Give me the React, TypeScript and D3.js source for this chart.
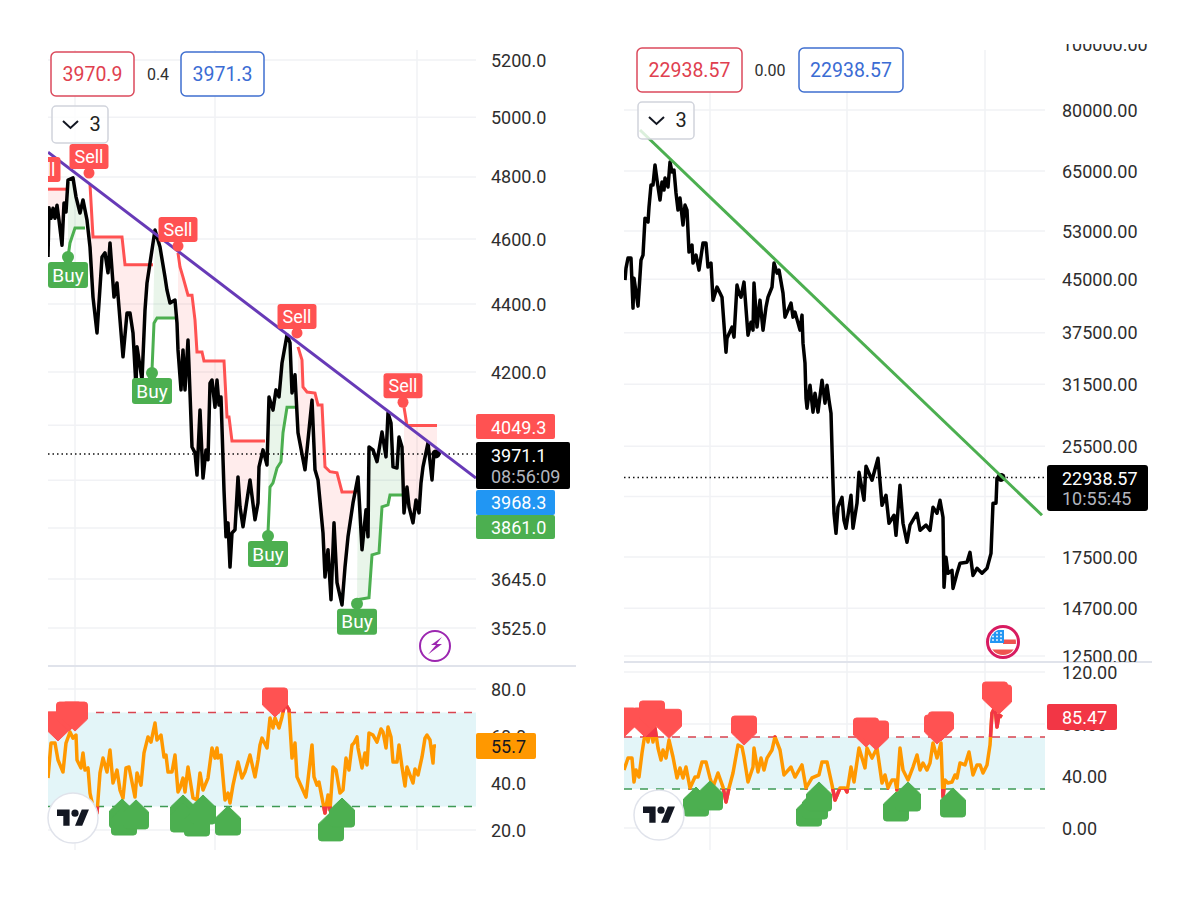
import { line, path as d3path, scaleLinear, scaleLog, ScaleLinear, ScaleLogarithmic } from "d3";

type Pt = [number, number];

// left chart: [bar, price]
const leftClose: Pt[] = [
  [0,4544],[1,4700],[3,4666],[5,4698],[7,4666],[9,4708],[11,4660],[14,4581],[16,4715],[18,4686],[20,4790],[25,4797],[28,4735],
  [32,4683],[35,4725],[39,4660],[42,4575],[45,4421],[49,4314],[54,4544],[57,4557],[60,4495],[62,4588],
  [66,4421],[69,4464],[75,4244],[79,4373],[82,4373],[85,4314],[88,4157],[89,4273],[94,4177],[97,4382],
  [99,4464],[107,4629],[112,4575],[117,4482],[119,4442],[122,4403],[127,4412],[129,4343],[130,4264],[133,4149],
  [135,4264],[137,4149],[140,4293],[142,4140],[144,3990],[147,3974],[149,3914],[152,4092],[155,3906],[158,3982],
  [160,3955],[162,4168],[164,4177],[167,4100],[169,4177],[171,4106],[173,4129],[176,3874],[178,3752],[180,3788],
  [182,3675],[184,3762],[187,3770],[190,3909],[192,3830],[195,3778],[202,3901],[207,3796],[210,3840],[211,3936],
  [215,3982],[219,3941],[221,4129],[225,4092],[228,4149],[231,4129],[234,4226],[239,4308],[242,4285],[244,4140],
  [247,4192],[250,4029],[257,3928],[264,4120],[267,3928],[270,3901],[275,3762],[277,3650],[280,3719],[283,3594],
  [286,3788],[289,3636],[294,3581],[297,3675],[300,3752],[305,3840],[310,3909],[314,3719],[318,3822],[320,3752],
  [321,3990],[325,3982],[329,3950],[334,4031],[338,3963],[340,4084],[343,4056],[345,3936],[349,3933],[351,4017],
  [354,3990],[356,3814],[359,3882],[361,3830],[365,3788],[368,3848],[371,3814],[373,3893],[375,3936],[380,4001],
  [384,3901],[386,3974],[389,3971.1],
];
const leftRedStops: Pt[][] = [
  [[0,4760],[18,4760]],
  [[42,4776],[45,4607],[74,4607],[77,4520],[105,4520]],
  [[130,4557],[132,4513],[135,4482],[140,4427],[144,4427],[147,4352],[149,4258],[154,4258],[156,4232],[176,4232],[179,4073],[181,4073],[184,4006],[217,4006]],
  [[250,4273],[254,4235],[255,4157],[259,4143],[267,4140],[270,4106],[274,4106],[277,3936],[282,3923],[289,3920],[294,3869],[309,3869]],
  [[356,4100],[359,4049.3],[389,4049.3]],
];
const leftGreenStops: Pt[][] = [
  [[20,4544],[22,4588],[27,4635],[37,4635]],
  [[104,4206],[106,4343],[109,4358],[127,4358]],
  [[220,3762],[222,3882],[225,3893],[229,3933],[233,3950],[235,4029],[239,4100],[247,4100]],
  [[309,3594],[321,3599],[324,3706],[331,3711],[334,3830],[340,3835],[342,3861],[355,3861]],
];
const leftSellPins: Pt[] = [[-7,4770],[41,4813],[130,4578],[249,4314],[355,4114]];
const leftBuyPins: Pt[] = [[20,4544],[104,4197],[220,3754],[309,3584]];
const leftTrend: Pt[] = [[0,4882],[428,3906]];
const leftTicks = [5200, 5000, 4800, 4600, 4400, 4200, 3645, 3525];
const leftHiddenTicks = [4050, 3900, 3775];
const leftTimeBars = [27, 167, 369];

const leftRsi: Pt[] = [
  [0,42.1],[3,57],[7,57],[10,49.8],[15,44.7],[18,57],[22,61.7],[25,59.1],[28,60.4],[29,49.8],
  [33,46.4],[35,52.8],[37,45.5],[40,46.4],[42,35.7],[45,29.8],[49,27.2],[52,44.3],[55,50.6],[59,44.7],
  [62,54],[65,40],[69,45.5],[72,37],[75,33.6],[78,46.4],[81,46.8],[87,34],[89,44.3],[93,39.1],
  [96,52.8],[100,59.6],[103,57.4],[107,65.5],[109,58.3],[113,60.4],[116,51.1],[118,51.9],[120,44.7],[124,44.7],
  [127,51.9],[130,36.2],[132,37.9],[135,42.1],[137,36.2],[140,46.8],[145,33.6],[149,32.8],[152,44.3],[155,37],
  [160,42.1],[164,54.9],[167,50.6],[169,54.9],[170,50.6],[173,51.9],[177,32.8],[180,35.7],[182,31.5],[185,39.1],
  [190,48.9],[194,42.1],[197,44.7],[202,51.9],[207,42.6],[210,49.8],[212,56.2],[214,59.1],[219,54.9],[222,67.7],
  [225,63.4],[227,67.7],[231,63.4],[234,68.1],[237,74],[241,71.1],[244,50.6],[247,57],[249,42.6],[254,37.9],
  [258,34],[264,56.2],[266,42.6],[269,39.1],[271,40.4],[275,31.5],[277,27.2],[280,34.9],[282,28.5],[285,46.8],
  [288,45.5],[292,35.7],[295,37],[298,50.6],[301,45.5],[304,56.2],[306,57],[309,59.6],[310,54.9],[314,46.4],
  [317,52.8],[319,47.7],[321,61.3],[325,60.4],[329,57.4],[333,63],[335,61.7],[338,54.9],[340,63.8],[343,59.6],
  [345,48.9],[349,48.9],[351,56.2],[354,46.8],[357,38.7],[359,46.8],[362,43.4],[365,40],[367,46],[370,43.4],
  [374,51.1],[377,59.1],[379,60.4],[382,58.3],[385,48.5],[386,55.7],[388,55.7],
];
const leftRsiSell: Pt[] = [[10,57.9],[21,62.1],[27,62.1],[227,68.1]];
const leftRsiBuy: Pt[] = [[74,33.2],[76,30.2],[88,32.8],[135,34.9],[135,31.5],[149,29.8],[155,34.9],[180,30.2],[283,27.7],[294,33.6]];
const leftRsiTicks = [80, 40, 20];

// right chart: [bar, price]
const rightClose: Pt[] = [
  [1,44865],[2,46730],[4,48350],[7,48350],[9,40790],[10,45170],[14,41070],[17,48024],[19,48850],[21,55390],
  [24,54660],[25,57510],[27,61990],[29,61990],[31,66350],[33,63047],[36,58900],[38,62620],[40,60938],[41,63480],
  [44,61570],[46,67030],[48,64790],[50,65229],[52,60330],[54,56930],[56,59300],[59,54100],[61,57900],[63,56930],
  [65,49350],[68,50540],[69,47540],[72,48850],[75,46418],[79,50890],[82,50890],[84,46900],[87,47540],[89,41914],
  [93,43810],[96,42930],[98,42340],[102,35120],[103,36830],[108,38240],[110,36960],[113,44110],[115,42930],[117,42340],
  [120,44560],[124,37200],[127,38890],[129,37847],[130,44410],[133,38240],[136,41914],[139,37847],[142,40930],[144,42340],
  [148,43810],[150,47540],[153,45950],[155,46418],[159,42930],[161,39560],[167,41490],[169,39560],[171,40240],[176,37847],
  [178,39830],[179,36210],[181,33830],[182,30030],[183,29030],[186,31390],[189,28640],[191,30550],[194,28640],[198,31927],
  [201,29530],[203,31390],[205,29826],[207,28540],[209,22490],[210,20310],[212,18970],[214,20730],[218,21440],[220,19828],
  [222,19300],[227,21590],[229,19300],[233,21010],[235,23340],[240,21225],[242,23830],[248,22719],[254,24480],[258,20870],
  [262,21590],[265,19630],[270,20170],[272,18840],[276,22340],[279,19630],[283,18400],[286,19500],[293,20310],[296,19165],
  [302,19500],[306,19165],[309,20730],[313,20310],[316,21225],[319,20030],[320,15790],[322,17480],[324,16560],[328,16726],
  [329,15730],[333,16560],[336,17130],[343,17190],[346,17780],[349,16440],[353,16840],[358,16560],[363,16840],[367,17720],
  [369,21010],[372,21010],[373,22880],[377,22938.57],
];
const rightTrend: Pt[] = [[16,74738],[418,20170]];
const rightTicks = [100000, 80000, 65000, 53000, 45000, 37500, 31500, 25500, 17500, 14700, 12500];
const rightHiddenTicks = [21500];
const rightTimeBars = [86, 223, 361];

const rightRsi: Pt[] = [
  [0,44.6],[4,53.8],[8,53.8],[10,35.4],[12,44.6],[15,39.2],[18,57.7],[20,67.7],[22,73.8],[24,66.2],
  [27,76.9],[29,66.2],[31,76.9],[34,61.5],[37,52.3],[39,60],[42,53.8],[45,67.7],[49,54.6],[53,38.5],
  [56,46.2],[59,38.5],[62,46.9],[66,30.8],[71,39.2],[74,39.2],[78,50.8],[82,50.8],[86,38.5],[89,31.5],
  [94,42.3],[99,31.5],[102,20],[105,30.8],[109,42.3],[114,63.8],[118,62.3],[120,54.6],[124,35.4],[129,46.9],
  [130,61.5],[134,43.1],[137,53.8],[140,44.6],[143,53.8],[148,60],[151,70],[156,60],[160,40.8],[167,46.9],
  [171,39.2],[178,48.5],[182,30.8],[188,38.5],[195,40.8],[198,50.8],[203,50.8],[208,33.1],[211,21.5],[216,30.8],
  [221,30.8],[223,27.7],[227,46.9],[230,35.4],[235,61.5],[241,46.2],[243,61.5],[248,53.8],[253,61.5],[258,34.6],
  [261,40.8],[264,30.8],[268,36.9],[271,36.9],[273,29.2],[276,61.5],[279,44.6],[284,36.9],[289,46.9],[293,56.2],
  [296,44.6],[299,50],[303,44.6],[306,50],[309,65.4],[313,53.8],[317,65.4],[319,23.8],[321,36.9],[324,34.6],
  [328,35.4],[331,40.8],[333,38.5],[336,50],[341,48.5],[345,58.5],[349,40.8],[353,48.5],[356,48.5],[359,42.3],
  [363,48.5],[366,63.8],[368,88.5],[371,93.1],[373,77.7],[375,86.9],[378,85.47],
];
const rightRsiSell: Pt[] = [[0,70],[21,70],[28,75.4],[45,69],[120,63.8],[242,62.3],[252,60],[313,64.6],[317,67],[371,90],[375,87.7]];
const rightRsiBuy: Pt[] = [[72,31.5],[86,36.2],[185,23.8],[191,29.2],[195,35.4],[272,27.7],[284,35.4],[329,30.8]];
const rightRsiTicks = [120, 40, 0];

const FONT = "Roboto, sans-serif";
const GRID = "#F1F2F5";
const RED = "#FF5252";
const GREEN = "#4CAF50";
const INK = "#2E2E2E";

type XS = ScaleLinear<number, number>;
type YS = ScaleLogarithmic<number, number> | ScaleLinear<number, number>;

const lineOf = (x: XS, y: YS) =>
  line<Pt>()
    .x((d) => x(d[0]))
    .y((d) => y(d[1]));

// polygon between a stop line and the close inside its bar range
const fillBetween = (stops: Pt[], close: Pt[], x: XS, y: YS) => {
  const a = stops[0][0];
  const b = stops[stops.length - 1][0];
  const inside = close.filter((d) => d[0] >= a && d[0] <= b).reverse();
  return lineOf(x, y)([...stops, ...inside]) + "Z";
};

// pentagon marker, tip at (x, y), dir 1 = pointing down, -1 = pointing up
const markerPath = (x: number, y: number, dir: number) => {
  const w = 12.5;
  const h = 29;
  const r = 3;
  const p = d3path();
  p.moveTo(x, y);
  p.lineTo(x + w, y - dir * 12);
  p.lineTo(x + w, y - dir * (h - r));
  p.quadraticCurveTo(x + w, y - dir * h, x + w - r, y - dir * h);
  p.lineTo(x - w + r, y - dir * h);
  p.quadraticCurveTo(x - w, y - dir * h, x - w, y - dir * (h - r));
  p.lineTo(x - w, y - dir * 12);
  p.closePath();
  return p.toString();
};

const Label = ({ x, y, text, fill = INK, size = 18, anchor = "start" }: any) => (
  <text x={x} y={y} fill={fill} fontSize={size} fontFamily={FONT} textAnchor={anchor} dominantBaseline="central">
    {text}
  </text>
);

const Box = ({ x, y, w, h, stroke, fill = "#fff" }: any) => (
  <rect x={x} y={y} width={w} height={h} rx={5} fill={fill} stroke={stroke} strokeWidth={1.5} />
);

const Dropdown = ({ x, y }: { x: number; y: number }) => (
  <g>
    <rect x={x} y={y} width={56} height={37} rx={4} fill="#fff" fillOpacity={0.8} stroke="#D1D4DC" strokeWidth={1.5} />
    <path d={`M${x + 11} ${y + 15}l7.5 7l7.5 -7`} fill="none" stroke="#131722" strokeWidth={2} />
    <Label x={x + 43} y={y + 18} text="3" size={20} fill="#222" anchor="middle" />
  </g>
);

const TvLogo = ({ cx, cy }: { cx: number; cy: number }) => (
  <g>
    <circle cx={cx} cy={cy} r={25} fill="#fff" stroke="#E0E3EB" strokeWidth={1.5} />
    <g transform={`translate(${cx - 16},${cy - 12}) scale(0.9)`} fill="#131722">
      <path d="M14 22H7V11H0V4h14v18zM28 22h-8l7.5-18h8L28 22z" />
      <circle cx={20} cy={8} r={4} />
    </g>
  </g>
);

const Pins = ({ sell, buy, x, y }: { sell: Pt[]; buy: Pt[]; x: XS; y: YS }) => (
  <g>
    {sell.map((d, i) => {
      const px = x(d[0]);
      const py = y(d[1]);
      return (
        <g key={"s" + i}>
          <circle cx={px} cy={py} r={5.5} fill={RED} />
          <rect x={px - 19.5} y={py - 29} width={39} height={25} rx={3} fill={RED} />
          <Label x={px} y={py - 16.5} text="Sell" size={18} fill="#fff" anchor="middle" />
        </g>
      );
    })}
    {buy.map((d, i) => {
      const px = x(d[0]);
      const py = y(d[1]);
      return (
        <g key={"b" + i}>
          <circle cx={px} cy={py} r={6} fill={GREEN} />
          <rect x={px - 20} y={py + 5} width={40} height={26} rx={3} fill={GREEN} />
          <Label x={px} y={py + 18} text="Buy" size={19} fill="#fff" anchor="middle" />
        </g>
      );
    })}
  </g>
);

const RsiPane = ({ id, data, sell, buy, x, y, left, right, bottom }: any) => {
  const path = lineOf(x, y)(data) as string;
  const top70 = y(70);
  const low30 = y(30);
  return (
    <g>
      <clipPath id={id + "-out"}>
        <rect x={left} y={640} width={right - left} height={top70 - 640} />
        <rect x={left} y={low30} width={right - left} height={bottom - low30} />
      </clipPath>
      <clipPath id={id + "-pane"}>
        <rect x={left} y={668} width={right - left} height={bottom - 668} />
      </clipPath>
      <rect x={left} y={top70} width={right - left} height={low30 - top70} fill="#E3F5F8" />
      <line x1={left} x2={right} y1={top70} y2={top70} stroke="#D9434F" strokeWidth={1.5} strokeDasharray="8 8" />
      <line x1={left} x2={right} y1={low30} y2={low30} stroke="#3F9A55" strokeWidth={1.5} strokeDasharray="8 8" />
      <g clipPath={`url(#${id}-pane)`}>
        <path d={path} fill="none" stroke="#FF9800" strokeWidth={3.5} strokeLinejoin="round" />
        <path d={path} fill="none" stroke="#F23645" strokeWidth={3.5} strokeLinejoin="round" clipPath={`url(#${id}-out)`} />
        {sell.map((d: Pt, i: number) => (
          <path key={"s" + i} d={markerPath(x(d[0]), y(d[1]), 1)} fill={RED} stroke={RED} strokeWidth={1} strokeLinejoin="round" />
        ))}
        {buy.map((d: Pt, i: number) => (
          <path key={"b" + i} d={markerPath(x(d[0]), y(d[1]), -1)} fill={GREEN} stroke={GREEN} strokeWidth={1} strokeLinejoin="round" />
        ))}
      </g>
    </g>
  );
};

const LeftChart = () => {
  const x = scaleLinear().domain([0, 428]).range([48, 476]);
  const y = scaleLog().domain([5200, 3525]).range([60, 628]);
  const rsi = scaleLinear().domain([80, 20]).range([689, 830]);
  const path = lineOf(x, y);
  const lastY = y(3971.1);
  return (
    <g>
      <clipPath id="left-main">
        <rect x={48} y={40} width={428} height={626} />
      </clipPath>
      {leftTimeBars.map((b) => (
        <line key={b} x1={x(b)} x2={x(b)} y1={50} y2={850} stroke={GRID} strokeWidth={1.5} />
      ))}
      {[...leftTicks, ...leftHiddenTicks].map((t) => (
        <line key={t} x1={48} x2={476} y1={y(t)} y2={y(t)} stroke={GRID} strokeWidth={1.5} />
      ))}
      {[80, 60, 40, 20].map((t) => (
        <line key={t} x1={48} x2={476} y1={rsi(t)} y2={rsi(t)} stroke={GRID} strokeWidth={1.5} />
      ))}
      <g clipPath="url(#left-main)">
        {leftRedStops.map((s, i) => (
          <path key={i} d={fillBetween(s, leftClose, x, y)} fill={RED} fillOpacity={0.11} />
        ))}
        {leftGreenStops.map((s, i) => (
          <path key={i} d={fillBetween(s, leftClose, x, y)} fill={GREEN} fillOpacity={0.12} />
        ))}
        {leftRedStops.map((s, i) => (
          <path key={i} d={path(s) as string} fill="none" stroke={RED} strokeWidth={3} />
        ))}
        {leftGreenStops.map((s, i) => (
          <path key={i} d={path(s) as string} fill="none" stroke={GREEN} strokeWidth={3} />
        ))}
        <line x1={48} x2={476} y1={lastY} y2={lastY} stroke="#111" strokeWidth={1.5} strokeDasharray="1.5 3" />
        <path d={path(leftClose) as string} fill="none" stroke="#000" strokeWidth={3.5} strokeLinejoin="round" />
        <circle cx={x(388)} cy={lastY} r={4.5} fill="#000" />
        <path d={path(leftTrend) as string} fill="none" stroke="#673AB7" strokeWidth={3} />
        <Pins sell={leftSellPins} buy={leftBuyPins} x={x} y={y} />
      </g>
      <line x1={48} x2={576} y1={666} y2={666} stroke="#E0E3EB" strokeWidth={2} />

      {leftTicks.map((t) => (
        <Label key={t} x={491} y={y(t)} text={t.toFixed(1)} />
      ))}
      {leftRsiTicks.concat(60).map((t) => (
        <Label key={t} x={491} y={rsi(t)} text={t.toFixed(1)} />
      ))}

      <RsiPane id="left-rsi" data={leftRsi} sell={leftRsiSell} buy={leftRsiBuy} x={x} y={rsi} left={48} right={476} bottom={850} />

      <rect x={476} y={414} width={79} height={25} rx={2} fill={RED} />
      <Label x={491} y={427} text="4049.3" fill="#fff" />
      <rect x={476} y={442} width={94} height={47} rx={2} fill="#000" />
      <Label x={491} y={455} text="3971.1" fill="#fff" />
      <Label x={491} y={476} text="08:56:09" fill="#B2B5BE" />
      <rect x={476} y={490} width={79} height={25} rx={2} fill="#2196F3" />
      <Label x={491} y={502} text="3968.3" fill="#fff" />
      <rect x={476} y={515} width={79} height={24} rx={2} fill={GREEN} />
      <Label x={491} y={527} text="3861.0" fill="#fff" />
      <rect x={476} y={733} width={60} height={26} rx={2} fill="#FF9800" />
      <Label x={491} y={746} text="55.7" fill="#131722" />

      <Box x={51} y={52} w={83} h={44} stroke="#DB4A5C" />
      <Label x={92.5} y={74} text="3970.9" size={19.5} fill="#E0404F" anchor="middle" />
      <Label x={158} y={74} text="0.4" size={16} anchor="middle" />
      <Box x={181} y={52} w={83} h={44} stroke="#3F6FD0" />
      <Label x={222.5} y={74} text="3971.3" size={19.5} fill="#3B6CD4" anchor="middle" />
      <Dropdown x={52} y={106} />

      <circle cx={435} cy={646} r={15} fill="#fff" stroke="#9C27B0" strokeWidth={2} />
      <path d="M442 637l-11 8h5l-8 9.5l14 -10.5h-5.5l5.5 -7z" fill="#9C27B0" />
      <TvLogo cx={73} cy={818} />
    </g>
  );
};

const RightChart = () => {
  const x = scaleLinear().domain([0, 421]).range([624, 1045]);
  const y = scaleLog().domain([80000, 12500]).range([110, 656]);
  const rsi = scaleLinear().domain([120, 0]).range([672, 828]);
  const path = lineOf(x, y);
  const lastY = y(22938.57);
  return (
    <g>
      <clipPath id="right-main">
        <rect x={624} y={40} width={421} height={622} />
      </clipPath>
      <clipPath id="right-axis">
        <rect x={1050} y={44} width={150} height={618} />
      </clipPath>
      {rightTimeBars.map((b) => (
        <line key={b} x1={x(b)} x2={x(b)} y1={50} y2={850} stroke={GRID} strokeWidth={1.5} />
      ))}
      {[...rightTicks.slice(1), ...rightHiddenTicks].map((t) => (
        <line key={t} x1={624} x2={1045} y1={y(t)} y2={y(t)} stroke={GRID} strokeWidth={1.5} />
      ))}
      {[120, 80, 40, 0].map((t) => (
        <line key={t} x1={624} x2={1045} y1={rsi(t)} y2={rsi(t)} stroke={GRID} strokeWidth={1.5} />
      ))}
      <g clipPath="url(#right-main)">
        <line x1={624} x2={1045} y1={lastY} y2={lastY} stroke="#111" strokeWidth={1.5} strokeDasharray="1.5 3" />
        <path d={path(rightClose) as string} fill="none" stroke="#000" strokeWidth={3.5} strokeLinejoin="round" />
        <circle cx={x(377)} cy={lastY} r={4.5} fill="#000" />
      </g>
      <path d={path(rightTrend) as string} fill="none" stroke={GREEN} strokeWidth={3} />
      <Dropdown x={638} y={102} />
      <line x1={624} x2={1152} y1={662} y2={662} stroke="#E0E3EB" strokeWidth={2} />

      <g clipPath="url(#right-axis)">
        {rightTicks.map((t) => (
          <Label key={t} x={1062} y={y(t)} text={t.toFixed(2)} />
        ))}
      </g>
      {rightRsiTicks.concat(80).map((t) => (
        <Label key={t} x={1062} y={rsi(t)} text={t.toFixed(2)} />
      ))}

      <RsiPane id="right-rsi" data={rightRsi} sell={rightRsiSell} buy={rightRsiBuy} x={x} y={rsi} left={624} right={1045} bottom={850} />

      <rect x={1047} y={465} width={101} height={46} rx={3} fill="#000" />
      <Label x={1062} y={478} text="22938.57" fill="#fff" />
      <Label x={1062} y={498} text="10:55:45" fill="#B2B5BE" />
      <rect x={1047} y={704} width={70} height={26} rx={2} fill="#F23645" />
      <Label x={1062} y={717} text="85.47" fill="#fff" />

      <Box x={637} y={48} w={105} h={44} stroke="#DB4A5C" />
      <Label x={689.5} y={70} text="22938.57" size={19.5} fill="#E0404F" anchor="middle" />
      <Label x={770} y={70} text="0.00" size={16} anchor="middle" />
      <Box x={799} y={48} w={104} h={44} stroke="#3F6FD0" />
      <Label x={851} y={70} text="22938.57" size={19.5} fill="#3B6CD4" anchor="middle" />

      {/* US flag badge */}
      <clipPath id="flag">
        <circle cx={1003} cy={642} r={13} />
      </clipPath>
      <circle cx={1003} cy={642} r={15.5} fill="#fff" stroke="#D81B60" strokeWidth={3} />
      <g clipPath="url(#flag)">
        <rect x={990} y={629} width={26} height={26} fill="#fff" />
        <rect x={1003} y={639.5} width={13} height={4.5} fill="#EF5350" />
        <rect x={990} y={649.5} width={26} height={5.5} fill="#EF5350" />
        <rect x={990} y={630} width={14} height={13} fill="#2196F3" />
        {[993, 997, 1001].map((cx) =>
          [633, 636.5, 640].map((cy) => <circle key={cx + "-" + cy} cx={cx} cy={cy} r={0.9} fill="#fff" />)
        )}
      </g>
      <TvLogo cx={659} cy={815} />
    </g>
  );
};

export default function App() {
  return (
    <svg width={1200} height={900} viewBox="0 0 1200 900" style={{ position: "fixed", left: 0, top: 0, background: "#fff" }}>
      <LeftChart />
      <RightChart />
    </svg>
  );
}
